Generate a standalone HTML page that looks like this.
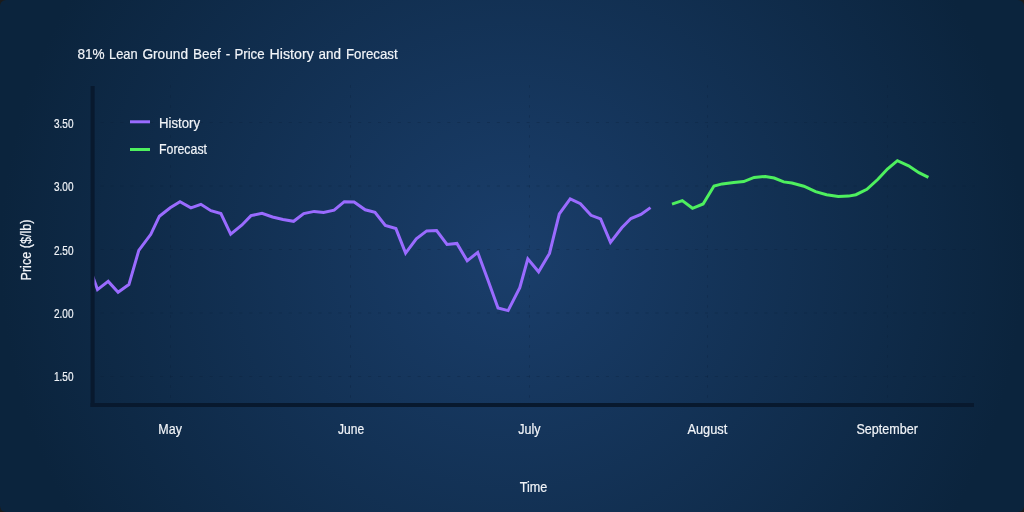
<!DOCTYPE html>
<html>
<head>
<meta charset="utf-8">
<title>81% Lean Ground Beef - Price History and Forecast</title>
<style>
  html, body { margin: 0; padding: 0; width: 1024px; height: 512px; overflow: hidden; background: #1b1b1b; }
  svg { display: block; will-change: transform; }
  text { font-family: "Liberation Sans", sans-serif; fill: #f1f4f8; stroke: #f1f4f8; stroke-width: 0.2px; }
  .lbl { font-size: 14.2px; }
  .tick { font-size: 13.4px; stroke: #f1f4f8; stroke-width: 0.3px; }
  .grid { stroke: #0a1e36; stroke-opacity: 0.28; stroke-width: 1; stroke-dasharray: 3 7; fill: none; }
  .axis { stroke: #08192e; stroke-width: 4; fill: none; }
</style>
</head>
<body>
<svg width="1024" height="512" viewBox="0 0 1024 512">
  <defs>
    <radialGradient id="bg" gradientUnits="userSpaceOnUse" cx="512" cy="256" r="512">
      <stop offset="0" stop-color="#1a3e6b"/>
      <stop offset="1" stop-color="#0b243d"/>
    </radialGradient>
    <clipPath id="plot"><rect x="94.5" y="86" width="881" height="318"/></clipPath>
  </defs>
  <rect x="0" y="0" width="1024" height="512" rx="6" ry="6" fill="url(#bg)"/>

  <!-- grid -->
  <g class="grid">
    <path stroke-dasharray="3 6.908" stroke-dashoffset="4.308" d="M95 122.5H975 M95 186H975 M95 249.5H975 M95 313H975 M95 376.5H975"/>
    <path stroke-dasharray="2.4 7.6" d="M170.5 85.2V404 M350.5 85.2V404 M529.5 85.2V404 M707.5 85.2V404 M887.5 85.2V404"/>
  </g>

  <!-- axes -->
  <path class="axis" d="M92.6 86V407.1"/>
  <path class="axis" d="M90.6 405.1H974"/>

  <!-- series -->
  <g clip-path="url(#plot)" fill="none" stroke-width="3" stroke-linejoin="miter" stroke-linecap="butt">
    <polyline stroke="#9a6bff" points="87.2,260.9 97.5,289.6 108.2,281.4 118.1,292.2 128.9,284.6 138.8,250.4 150.8,234.3 159.4,216.2 170.2,207.8 180,201.8 190.9,207.8 200.9,204.3 210.9,210.7 220.9,213.5 230.7,234.1 242,225 251,215.6 262,213.4 272.5,217 283,219.5 293.6,221.3 303.7,213.6 314.2,211.4 323.6,212.5 334.1,210.2 344.3,201.7 354.1,202 365.2,209.8 375,212.4 385.3,225.5 395.9,228.6 405.6,253.1 416.3,238.8 426.7,230.9 436.6,230.5 447,244.5 456.9,243.4 467.2,260.8 477.7,252.4 488,280.2 498,308 508.1,310.6 519.8,287.7 527.8,258.8 538.6,271.8 549.5,253.4 559.3,213.9 570.2,198.8 580.4,203.7 591,215.3 600.6,218.9 610.5,242.4 621.8,227.8 630.9,218.5 640.9,214.4 650.5,207.6"/>
    <polyline stroke="#4ef05e" points="672,204.2 682.3,200.6 692.5,208.3 703.1,204 714,186 722.2,183.9 733.8,182.6 743.7,181.6 754.1,177.4 765.3,176.4 774.2,178 783.7,181.9 791.9,183 803.9,186.2 815.6,191.7 826.6,194.7 838.3,196.6 848.6,196.1 855.9,194.7 866.9,189.3 877.9,179.3 887.4,169 897.4,160.7 908.6,165.8 918.9,172.7 928.4,177.4"/>
  </g>

  <!-- legend -->
  <path d="M130 121.8H150" stroke="#9a6bff" stroke-width="3" fill="none"/>
  <path d="M130 149.5H150" stroke="#4ef05e" stroke-width="3" fill="none"/>
  <text class="lbl" x="159" y="127.5" textLength="41" lengthAdjust="spacingAndGlyphs">History</text>
  <text class="lbl" x="159" y="153.8" textLength="48" lengthAdjust="spacingAndGlyphs">Forecast</text>

  <!-- title -->
  <g font-size="14.6">
    <text x="77.4" y="58.9" textLength="27.2" lengthAdjust="spacingAndGlyphs">81%</text>
    <text x="109.0" y="58.9" textLength="28.7" lengthAdjust="spacingAndGlyphs">Lean</text>
    <text x="142.4" y="58.9" textLength="45.7" lengthAdjust="spacingAndGlyphs">Ground</text>
    <text x="193.0" y="58.9" textLength="27.8" lengthAdjust="spacingAndGlyphs">Beef</text>
    <text x="225.8" y="58.9" textLength="4.5" lengthAdjust="spacingAndGlyphs">-</text>
    <text x="234.4" y="58.9" textLength="30.2" lengthAdjust="spacingAndGlyphs">Price</text>
    <text x="269.5" y="58.9" textLength="44.3" lengthAdjust="spacingAndGlyphs">History</text>
    <text x="318.6" y="58.9" textLength="22.5" lengthAdjust="spacingAndGlyphs">and</text>
    <text x="346.0" y="58.9" textLength="51.7" lengthAdjust="spacingAndGlyphs">Forecast</text>
  </g>

  <!-- y ticks -->
  <g class="tick">
    <text x="54" y="127.5" textLength="19.5" lengthAdjust="spacingAndGlyphs">3.50</text>
    <text x="54" y="191" textLength="19.5" lengthAdjust="spacingAndGlyphs">3.00</text>
    <text x="54" y="254.5" textLength="19.5" lengthAdjust="spacingAndGlyphs">2.50</text>
    <text x="54" y="318" textLength="19.5" lengthAdjust="spacingAndGlyphs">2.00</text>
    <text x="54" y="381.4" textLength="19.5" lengthAdjust="spacingAndGlyphs">1.50</text>
  </g>

  <!-- x ticks -->
  <g class="lbl">
    <text x="158.3" y="433.6" textLength="23.6" lengthAdjust="spacingAndGlyphs">May</text>
    <text x="338.1" y="433.6" textLength="26.1" lengthAdjust="spacingAndGlyphs">June</text>
    <text x="518.3" y="433.6" textLength="22.3" lengthAdjust="spacingAndGlyphs">July</text>
    <text x="687.4" y="433.6" textLength="39.9" lengthAdjust="spacingAndGlyphs">August</text>
    <text x="856.5" y="433.6" textLength="61.4" lengthAdjust="spacingAndGlyphs">September</text>
  </g>

  <!-- axis titles -->
  <text class="lbl" x="519.8" y="491.7" textLength="27.6" lengthAdjust="spacingAndGlyphs">Time</text>
  <text class="lbl" transform="translate(30.9 280.5) rotate(-90)" x="0" y="0" textLength="61" lengthAdjust="spacingAndGlyphs">Price ($/lb)</text>
</svg>
</body>
</html>
